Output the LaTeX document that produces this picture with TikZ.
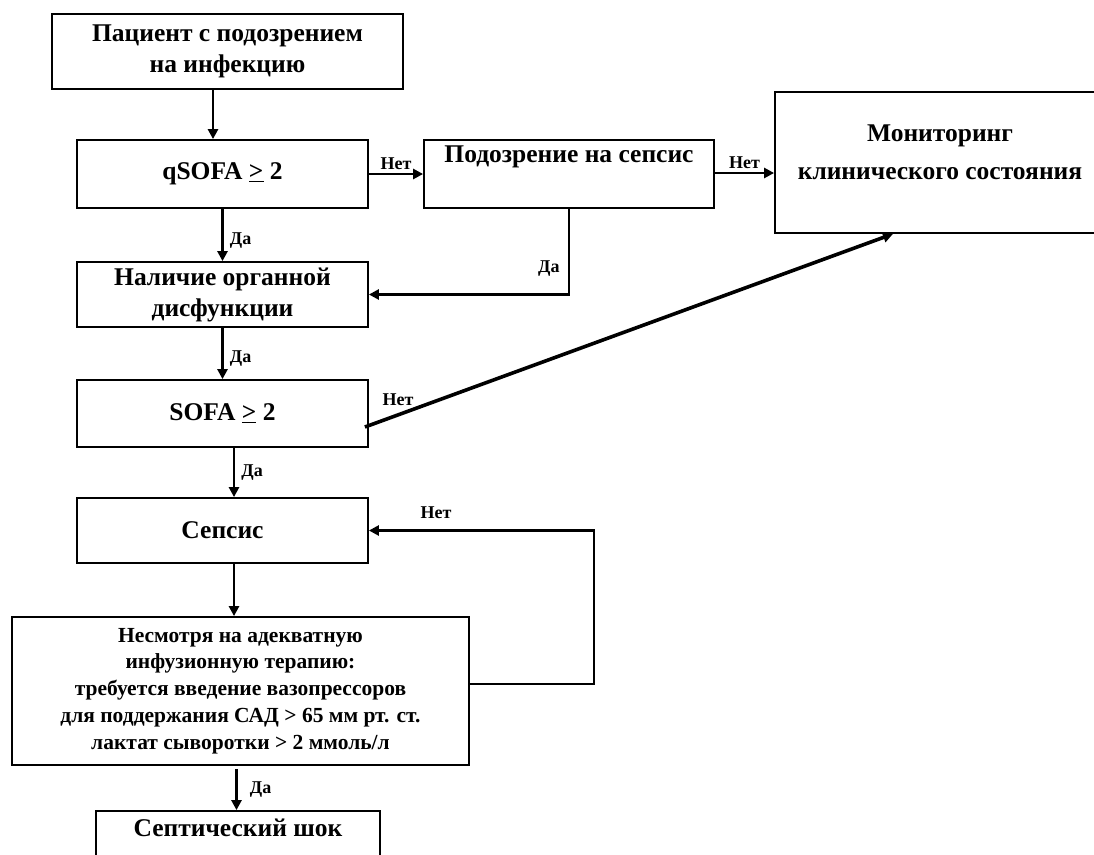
\documentclass[tikz,border=0pt]{standalone}
\usepackage{fontspec}
\setmainfont{Liberation Serif}
\usetikzlibrary{arrows.meta}
\begin{document}
\begin{tikzpicture}[x=1pt,y=-1pt,
  box/.style={draw, line width=1.8pt, inner sep=0pt, align=center,
    font=\bfseries\fontsize{25.5}{31}\selectfont},
  txt/.style={align=center, inner sep=0pt, font=\bfseries\fontsize{25.5}{38}\selectfont},
  small/.style={box, font=\bfseries\fontsize{21.5}{26.8}\selectfont},
  arr/.style={line width=2.8pt, -{Triangle[length=10pt,width=10pt]}},
  lbl/.style={inner sep=0pt, font=\bfseries\fontsize{18}{20}\selectfont}]
\clip (0,0) rectangle (1094,854);
\fill[white] (0,0) rectangle (1094,854);

\node[box, minimum width=351, minimum height=75] (pat) at (227.5,51.5)
  {Пациент с подозрением\\на инфекцию};
\node[box, minimum width=291, minimum height=68] (qsofa) at (222.5,174)
  {qSOFA \underline{>} 2};
\node[box, minimum width=290, minimum height=68,
  label={[txt, yshift=17pt]center:Подозрение на сепсис}] (pod) at (569,174) {};
\node[box, minimum width=330, minimum height=141,
  label={[txt, yshift=10pt]center:Мониторинг\\клинического состояния}] (mon) at (940,162.5) {};
\node[box, minimum width=291, minimum height=65] (nal) at (222.5,294.5)
  {Наличие органной\\дисфункции};
\node[box, minimum width=291, minimum height=67] (sofa) at (222.5,413.5)
  {SOFA \underline{>} 2};
\node[box, minimum width=291, minimum height=65] (sep) at (222.5,530.5)
  {Сепсис};
\node[small, minimum width=457, minimum height=148] (big) at (240.5,691)
  {Несмотря на адекватную\\инфузионную терапию:\\требуется введение вазопрессоров\\для поддержания САД > 65 мм рт. ст.\\лактат сыворотки > 2 ммоль/л};
\node[box, minimum width=284, minimum height=64,
  label={[txt, yshift=15pt]center:Септический шок}] (shock) at (238,843) {};

% connectors
\draw[arr] ([xshift=-9.5pt]qsofa.north |- pat.south) -- ([xshift=-9.5pt]qsofa.north);
\draw[arr] (qsofa) -- (nal) node[lbl, pos=0.6, right=6pt] {Да};
\draw[arr] (qsofa.east) -- (pod.west) node[lbl, midway, above=3pt] {Нет};
\draw[arr] ([yshift=1pt]pod.east) -- ([yshift=1pt]pod.east -| mon.west)
  node[lbl, midway, above=3pt] {Нет};
\draw[arr] (pod.south) |- (nal.east) node[lbl, pos=0.35, left=8pt] {Да};
\draw[arr] (nal) -- (sofa) node[lbl, pos=0.6, right=6pt] {Да};
\draw[arr, line width=3.6pt] ([xshift=-4pt,yshift=-13.5pt]sofa.east) -- ([xshift=-47pt]mon.south);
\node[lbl] (nsofa) at (398,400) {Нет};
\draw[arr] ([xshift=11.5pt]sofa.south) -- ([xshift=11.5pt]sep.north)
  node[lbl, pos=0.5, right=6pt] {Да};
\draw[arr] ([xshift=11.5pt]sep.south) -- ([xshift=11.5pt]sep.south |- big.north);
\draw[arr] ([yshift=7pt]big.east) -- ++(124,0) |- (sep.east);
\node[lbl] (nsep) at (436,513) {Нет};
\draw[arr] ([xshift=-4pt,yshift=-3pt]big.south) -- ([xshift=-4pt]big.south |- shock.north)
  node[lbl, midway, right=12pt] {Да};
\end{tikzpicture}
\end{document}
